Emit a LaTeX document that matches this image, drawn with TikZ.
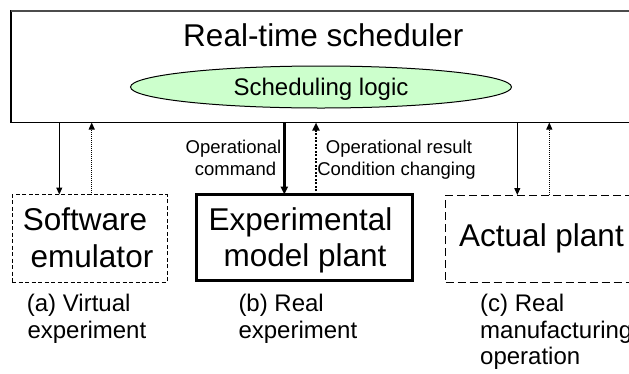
\documentclass[tikz,border=0pt]{standalone}
\usepackage{fontspec}
\setmainfont{Liberation Sans}
\usetikzlibrary{arrows.meta,shapes.geometric}
\definecolor{logicgreen}{HTML}{CCFFCC}
\begin{document}
\begin{tikzpicture}[x=1pt,y=-1pt,
  big/.style={font=\fontsize{31.5}{36}\selectfont, inner sep=0pt, anchor=base},
  mid/.style={font=\fontsize{24}{27}\selectfont, inner sep=0pt, anchor=base west},
  small/.style={font=\fontsize{18.5}{21}\selectfont, inner sep=0pt, anchor=base},
  boxbase/.style={draw, inner sep=0pt, outer sep=0pt, anchor=north west},
  thinline/.style={line width=1pt},
  tip/.style={-{Triangle[length=7pt,width=6pt]}},
  bigtip/.style={-{Triangle[length=8pt,width=7pt]}},
  dots/.style={dash pattern=on 1pt off 1pt},
  bigdots/.style={dash pattern=on 2pt off 1.5pt},
]
\useasboundingbox (0,0) rectangle (629,373);

% scheduler box
\node[boxbase, line width=1.3pt, minimum width=640pt, minimum height=112pt] (sched) at (11,10.5) {};
\draw[black!70, line width=2pt] (sched.north west) -- (sched.north east);
\node[big] (title) at (323.3,46.7) {Real-time scheduler};
\node[ellipse, draw, thinline, fill=logicgreen, minimum width=381pt, minimum height=42pt,
      inner sep=0pt, text height=17pt, text depth=0pt,
      font=\fontsize{24}{27}\selectfont] (logic) at (321,87) {Scheduling logic};

% lower boxes
\node[boxbase, thinline, dash pattern=on 4pt off 2.5pt, minimum width=155pt, minimum height=87.5pt] (sw) at (12.2,194.5) {};
\node[big] (sw1) at (85,230.7) {Software};
\node[big] (sw2) at (92,267) {emulator};

\node[boxbase, line width=3pt, minimum width=215.5pt, minimum height=86pt] (exp) at (196.5,194.5) {};
\node[big] (exp1) at (300.5,230) {Experimental};
\node[big] (exp2) at (305,266.7) {model plant};

\node[boxbase, thinline, dash pattern=on 8pt off 4pt, minimum width=200pt, minimum height=87pt] (act) at (445.5,195) {};
\node[big, anchor=base west] (act1) at (459,246.7) {Actual plant};

% connector x positions
\coordinate (xa1) at (59.3,0);
\coordinate (xa2) at (91.7,0);
\coordinate (xb1) at (284.3,0);
\coordinate (xb2) at (316,0);
\coordinate (xc1) at (517.3,0);
\coordinate (xc2) at (549.3,0);

\draw[thinline, tip] (sched.south -| xa1) -- (sw.north -| xa1);
\draw[thinline, dots, tip] (sw.north -| xa2) -- (sched.south -| xa2);
\draw[line width=2.5pt, bigtip] (sched.south -| xb1) -- (exp.north -| xb1);
\draw[line width=2.5pt, bigdots, bigtip] (exp.north -| xb2) -- (sched.south -| xb2);
\draw[thinline, tip] (sched.south -| xc1) -- (act.north -| xc1);
\draw[thinline, dots, tip] (act.north -| xc2) -- (sched.south -| xc2);

% connector labels
\node[small] (cmd1) at (233.5,153.5) {Operational};
\node[small] (cmd2) at (235.5,175.5) {command};
\node[small] (res1) at (399,153.5) {Operational result};
\node[small] (res2) at (396.5,175.5) {Condition changing};

% captions
\node[mid] (ca1) at (26.7,311.7) {(a) Virtual};
\node[mid] (ca2) at (27.3,338.3) {experiment};
\node[mid] (cb1) at (238.3,311.7) {(b) Real};
\node[mid] (cb2) at (238.3,338.3) {experiment};
\node[mid] (cc1) at (480,311.7) {(c) Real};
\node[mid] (cc2) at (480,338.3) {manufacturing};
\node[mid] (cc3) at (480,364.5) {operation};
\end{tikzpicture}
\end{document}
